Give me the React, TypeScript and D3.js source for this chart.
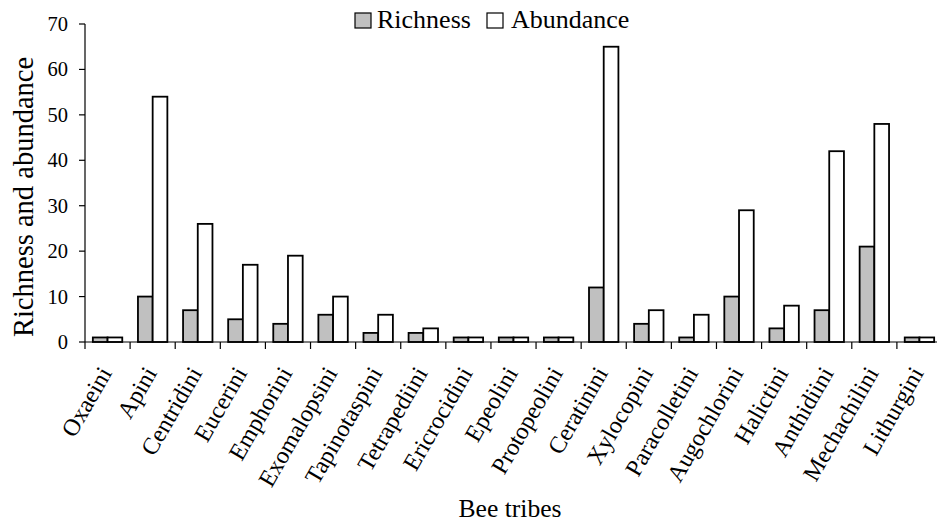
import React from "react";
import * as d3 from "d3";

const tribes = [
  "Oxaeini", "Apini", "Centridini", "Eucerini", "Emphorini", "Exomalopsini",
  "Tapinotaspini", "Tetrapediini", "Ericrocidini", "Epeolini", "Protopeolini",
  "Ceratinini", "Xylocopini", "Paracolletini", "Augochlorini", "Halictini",
  "Anthidiini", "Mechachilini", "Lithurgini",
];
const richness = [1, 10, 7, 5, 4, 6, 2, 2, 1, 1, 1, 12, 4, 1, 10, 3, 7, 21, 1];
const abundance = [1, 54, 26, 17, 19, 10, 6, 3, 1, 1, 1, 65, 7, 6, 29, 8, 42, 48, 1];
const yTicks = [0, 10, 20, 30, 40, 50, 60, 70];
const seriesNames = ["Richness", "Abundance"];
const seriesColors = ["#c0c0c0", "#ffffff"];

const W = 937;
const H = 523;
const X0 = 85;
const X1 = 942;
const Y0 = 342;
const Y1 = 24;
const FONT = "Liberation Serif, DejaVu Serif, serif";

export default function App() {
  const x = d3.scaleBand<string>().domain(tribes).range([X0, X1]).padding(0);
  const bw = x.bandwidth();
  const inner = d3
    .scaleBand<string>()
    .domain(seriesNames)
    .range([bw * 0.174, bw * 0.826])
    .padding(0);
  const y = d3.scaleLinear().domain([0, 70]).range([Y0, Y1]);
  const series = [richness, abundance];
  const ts = { fontFamily: FONT };

  return (
    <svg
      width={W}
      height={H}
      style={{ position: "absolute", left: 0, top: 0, background: "#fff", fontFamily: FONT }}
    >
      {/* bars */}
      {tribes.map((t, i) => (
        <g key={t}>
          {series.map((s, k) => (
            <rect
              key={k}
              x={(x(t) as number) + (inner(seriesNames[k]) as number)}
              y={y(s[i])}
              width={inner.bandwidth()}
              height={y(0) - y(s[i])}
              fill={seriesColors[k]}
              stroke="#000"
              strokeWidth={1.8}
            />
          ))}
        </g>
      ))}
      {/* y axis */}
      <line x1={X0} x2={X0} y1={Y1} y2={Y0} stroke="#000" strokeWidth={1.2} />
      {yTicks.map((v) => (
        <g key={v}>
          <line x1={X0 - 6} x2={X0} y1={y(v)} y2={y(v)} stroke="#000" strokeWidth={1.2} />
          <text
            x={68}
            y={y(v) + 7}
            textAnchor="end"
            fontSize={20.5}
            fill="#000"
            style={ts}
          >
            {v}
          </text>
        </g>
      ))}
      {/* x axis */}
      <line x1={X0} x2={X1} y1={Y0} y2={Y0} stroke="#000" strokeWidth={1.2} />
      {d3.range(tribes.length + 1).map((i) => (
        <line
          key={i}
          x1={X0 + i * bw}
          x2={X0 + i * bw}
          y1={Y0}
          y2={Y0 + 7}
          stroke="#000"
          strokeWidth={1.2}
        />
      ))}
      {tribes.map((t) => (
        <text
          key={t}
          transform={`translate(${(x(t) as number) + bw / 2 + 5},${373}) rotate(-60)`}
          textAnchor="end"
          fontSize={24}
          fill="#000"
          style={ts}
        >
          {t}
        </text>
      ))}
      {/* axis titles */}
      <text x={510} y={517} textAnchor="middle" fontSize={25.6} fill="#000" style={ts}>
        Bee tribes
      </text>
      <text
        transform={`translate(33,197) rotate(-90)`}
        textAnchor="middle"
        fontSize={28.5}
        fill="#000"
        style={ts}
      >
        Richness and abundance
      </text>
      {/* legend */}
      <rect x={355} y={13} width={16} height={15} fill={seriesColors[0]} stroke="#000" strokeWidth={1.2} />
      <text x={377} y={28} fontSize={26} fill="#000" style={ts}>
        {seriesNames[0]}
      </text>
      <rect x={487} y={13} width={16} height={15} fill={seriesColors[1]} stroke="#000" strokeWidth={1.2} />
      <text x={511} y={28} fontSize={26} fill="#000" style={ts}>
        {seriesNames[1]}
      </text>
    </svg>
  );
}
